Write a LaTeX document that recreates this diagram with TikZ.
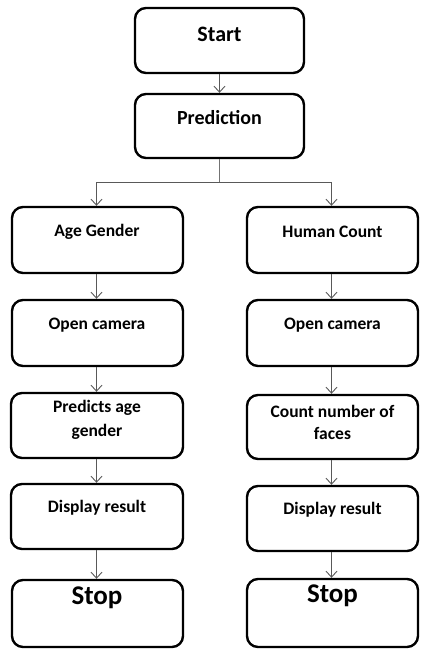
\documentclass[tikz,border=0pt]{standalone}
\usepackage{fontspec}
\setmainfont{Carlito}
\usetikzlibrary{arrows.meta,calc}

\tikzset{
  stepbox/.style={draw=black, line width=2.4pt, rounded corners=11pt,
    fill=white, inner sep=0pt},
  label/.style={font=\bfseries\fontsize{17.5}{21}\selectfont, align=center, inner sep=0pt},
  conn/.style={draw=black!65, line width=1pt,
    -{Straight Barb[length=6pt,width=11pt,line width=0.9pt]}},
  wire/.style={draw=black!55, line width=1.6pt},
}

% draw a box from its pixel extents: name, x0, x1, y0, y1
\newcommand{\flowbox}[5]{%
  \node[stepbox, minimum width=#3-#2, minimum height=#5-#4] (#1) at ({(#2+#3)/2},{(#4+#5)/2}) {};}

\begin{document}
\begin{tikzpicture}[x=1pt,y=-1pt]
\useasboundingbox (0,0) rectangle (422,649);

% boxes
\flowbox{start}{135}{304}{8}{73}
\flowbox{pred}{135}{304}{94}{158}
\flowbox{age}{12}{183}{207}{273}
\flowbox{human}{247}{418}{207}{273}
\flowbox{camL}{12}{183}{300}{366}
\flowbox{camR}{247}{418}{300}{366}
\flowbox{predicts}{11}{183}{393}{458}
\flowbox{count}{247}{418}{395}{459}
\flowbox{dispL}{11}{183}{484}{549}
\flowbox{dispR}{247}{418}{486}{551}
\flowbox{stopL}{12}{183}{580}{647}
\flowbox{stopR}{247}{418}{579}{647}

% texts
\node[label, font=\bfseries\fontsize{22}{26}\selectfont] (startT) at (219.5,34) {Start};
\node[label, font=\bfseries\fontsize{20}{24}\selectfont] (predT) at (219.5,118) {Prediction};
\node[label] (ageT) at (97,232) {Age Gender};
\node[label] (humanT) at (332.5,232) {Human Count};
\node[label] (camLT) at (97,325) {Open camera};
\node[label] (camRT) at (332.5,325) {Open camera};
\node[label, font=\bfseries\fontsize{17.5}{24}\selectfont] (predictsT) at (97,420) {Predicts age\\gender};
\node[label, font=\bfseries\fontsize{17.5}{22}\selectfont] (countT) at (332.5,422) {Count number of\\faces};
\node[label] (dispLT) at (97,508) {Display result};
\node[label] (dispRT) at (332.5,510) {Display result};
\node[label, font=\bfseries\fontsize{27}{30}\selectfont] (stopLT) at (97,598) {Stop};
\node[label, font=\bfseries\fontsize{27}{30}\selectfont] (stopRT) at (332.5,596) {Stop};

% connectors
\draw[conn] (start) -- (pred);
\coordinate (split) at ($(pred.south)+(0,23)$);
\draw[wire] (pred.south) -- (split);
\draw[conn] (split) -| ([xshift=-1pt]age.north);
\draw[conn] (split) -| ([xshift=-1pt]human.north);
\draw[conn] ([xshift=-1pt]age.south) -- ([xshift=-1pt]camL.north);
\draw[conn] ([xshift=-1pt]human.south) -- ([xshift=-1pt]camR.north);
\draw[conn] ([xshift=-1pt]camL.south) -- ([xshift=-1pt]camL.south |- predicts.north);
\draw[conn] ([xshift=-1pt]camR.south) -- ([xshift=-1pt]camR.south |- count.north);
\draw[conn] ([xshift=-1pt]camL.south |- predicts.south) -- ([xshift=-1pt]camL.south |- dispL.north);
\draw[conn] ([xshift=-1pt]camR.south |- count.south) -- ([xshift=-1pt]camR.south |- dispR.north);
\draw[conn] ([xshift=-1pt]camL.south |- dispL.south) -- ([xshift=-1pt]camL.south |- stopL.north);
\draw[conn] ([xshift=-1pt]camR.south |- dispR.south) -- ([xshift=-1pt]camR.south |- stopR.north);
\end{tikzpicture}
\end{document}
